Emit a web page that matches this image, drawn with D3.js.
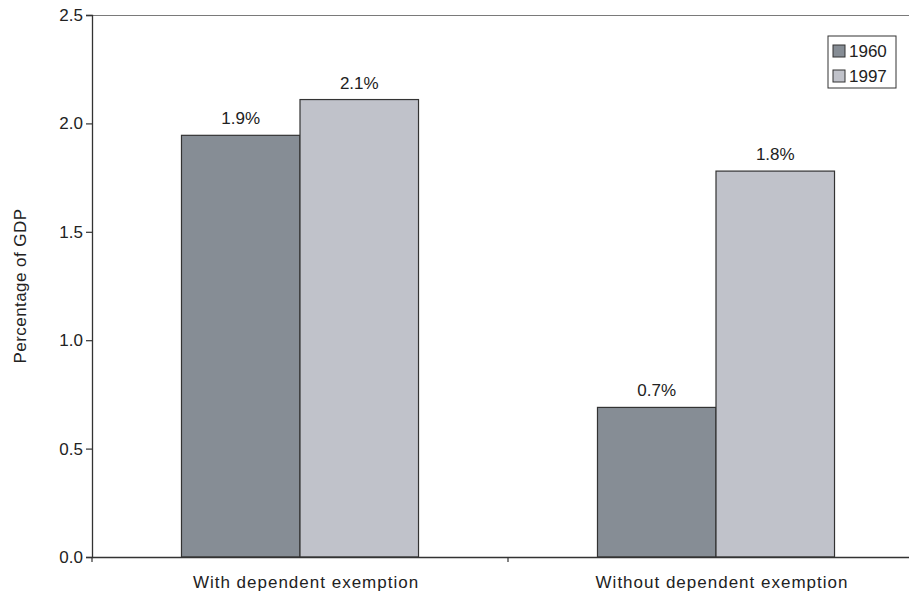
<!DOCTYPE html>
<html>
<head>
<meta charset="utf-8">
<script src="https://cdn.jsdelivr.net/npm/d3@7"></script>
<style>
  html, body { margin: 0; padding: 0; background: #fff; }
  svg { display: block; font-family: "Liberation Sans", Arial, Helvetica, sans-serif; }
</style>
</head>
<body>
<svg id="chart" width="909" height="594"></svg>
<script>
// Dependent exemption cost, share of GDP
const categories = ["With dependent exemption", "Without dependent exemption"];
const years = ["1960", "1997"];
const values1960 = [1.945, 0.69];
const values1997 = [2.11, 1.78];
const yTicks = [0, 0.5, 1.0, 1.5, 2.0, 2.5];
const yTitle = "Percentage of GDP";

const colors = { "1960": "#868d95", "1997": "#c0c2ca" };
const seriesValues = { "1960": values1960, "1997": values1997 };

const rows = categories.map((c, i) => ({
  category: c,
  bars: years.map(yr => ({ year: yr, value: seriesValues[yr][i] }))
}));

const svg = d3.select("#chart");
const plotLeft = 92, plotTop = 15, plotBottom = 557;

// The category axis runs past the right edge of the drawing
const x = d3.scaleBand().domain(categories).range([plotLeft, 924]).padding(0);
const xInner = d3.scaleBand().domain(years).range([0, x.bandwidth()]).paddingInner(0).paddingOuter(0.755);
const y = d3.scaleLinear().domain([0, 2.5]).range([plotBottom, plotTop]);

const fmt = d3.format(".1f");

// Top frame line
svg.append("line")
  .attr("x1", plotLeft).attr("x2", 909)
  .attr("y1", y(2.5) + 0.5).attr("y2", y(2.5) + 0.5)
  .attr("stroke", "#7a7a7a").attr("stroke-width", 1);

// Bars
const groups = svg.append("g").selectAll("g")
  .data(rows).join("g")
  .attr("transform", d => `translate(${x(d.category)},0)`);

groups.selectAll("rect")
  .data(d => d.bars).join("rect")
  .attr("x", d => xInner(d.year))
  .attr("y", d => y(d.value))
  .attr("width", xInner.bandwidth())
  .attr("height", d => y(0) - y(d.value))
  .attr("fill", d => colors[d.year])
  .attr("stroke", "#333")
  .attr("stroke-width", 1.2);

groups.selectAll("text")
  .data(d => d.bars).join("text")
  .attr("x", d => xInner(d.year) + xInner.bandwidth() / 2)
  .attr("y", d => y(d.value) - 11)
  .attr("text-anchor", "middle")
  .attr("font-size", 17)
  .attr("fill", "#222")
  .text(d => fmt(d.value) + "%");

// Y axis
const yAxis = svg.append("g")
  .attr("transform", `translate(${plotLeft},0)`)
  .call(d3.axisLeft(y).tickValues(yTicks).tickFormat(fmt).tickSize(6).tickPadding(3));
yAxis.select(".domain").attr("stroke", "#333").attr("stroke-width", 1.3);
yAxis.selectAll(".tick line").attr("stroke", "#333").attr("stroke-width", 1.2);
yAxis.selectAll(".tick text")
  .attr("font-size", 17).attr("fill", "#222")
  .attr("font-family", "'Liberation Sans', Arial, sans-serif");

// X axis
const xAxis = svg.append("g")
  .attr("transform", `translate(0,${plotBottom})`)
  .call(d3.axisBottom(x).tickSize(0).tickPadding(0).tickFormat(""));
xAxis.select(".domain").attr("stroke", "#333").attr("stroke-width", 1.3);
xAxis.selectAll(".tick").remove();

// Ticks on the category boundaries
const boundaries = [x.range()[0], ...categories.map(c => x(c) + x.bandwidth())];
xAxis.selectAll(".bound").data(boundaries).join("line")
  .attr("class", "bound")
  .attr("x1", d => d).attr("x2", d => d)
  .attr("y1", 0).attr("y2", 5)
  .attr("stroke", "#333").attr("stroke-width", 1.2);

xAxis.selectAll(".cat").data(categories).join("text")
  .attr("class", "cat")
  .attr("x", d => x(d) + x.bandwidth() / 2 + 6)
  .attr("y", 31)
  .attr("text-anchor", "middle")
  .attr("font-size", 17)
  .attr("letter-spacing", "1px")
  .attr("fill", "#222")
  .text(d => d);

// Y title
svg.append("text")
  .attr("transform", `translate(26,${(plotTop + plotBottom) / 2}) rotate(-90)`)
  .attr("text-anchor", "middle")
  .attr("font-size", 17)
  .attr("letter-spacing", "0.45px")
  .attr("fill", "#222")
  .text(yTitle);

// Legend
const legend = svg.append("g").attr("transform", "translate(828,36)");
legend.append("rect")
  .attr("x", 0).attr("y", 0).attr("width", 68).attr("height", 52)
  .attr("fill", "#fff").attr("stroke", "#333").attr("stroke-width", 1);
const items = legend.selectAll(".item").data(years).join("g")
  .attr("class", "item")
  .attr("transform", (d, i) => `translate(5,${9 + i * 25})`);
items.append("rect")
  .attr("width", 12).attr("height", 12)
  .attr("fill", d => colors[d]).attr("stroke", "#333").attr("stroke-width", 1);
items.append("text")
  .attr("x", 16).attr("y", 12)
  .attr("font-size", 17).attr("fill", "#222")
  .text(d => d);
</script>
</body>
</html>
